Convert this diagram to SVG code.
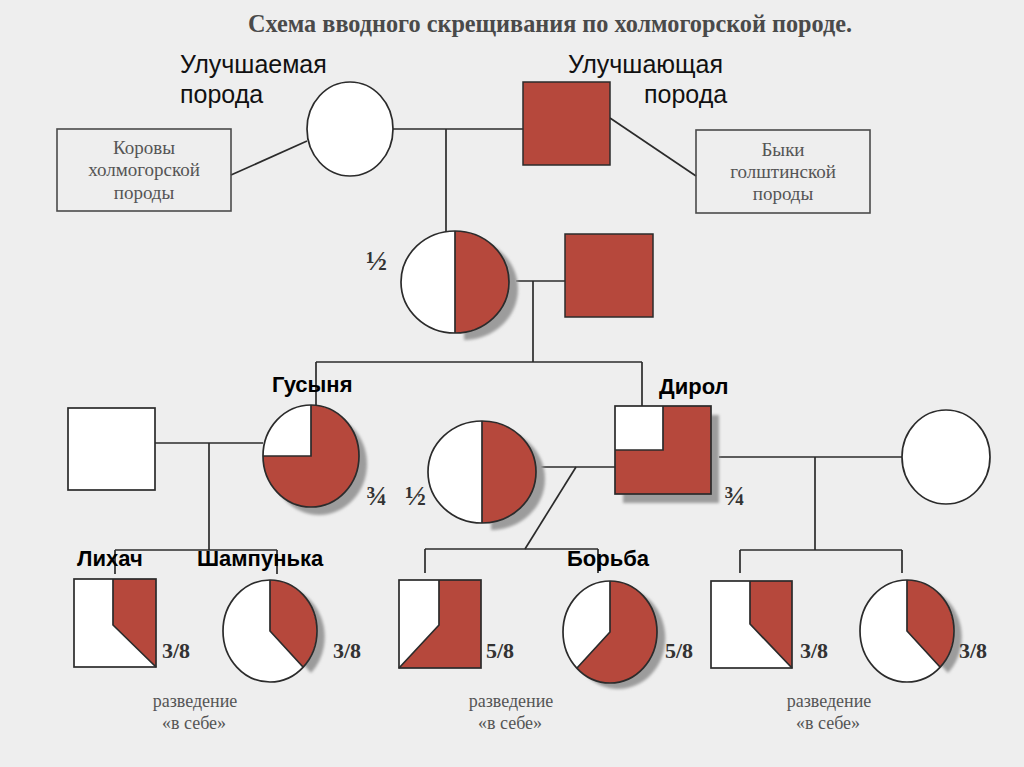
<svg xmlns="http://www.w3.org/2000/svg" width="1024" height="767" viewBox="0 0 1024 767">
<style>
.ln{stroke:#2b2b2b;stroke-width:1.7;fill:none}
.ol{stroke:#2b2b2b;stroke-width:1.7;fill:none}
.wh{fill:#ffffff}
.rd{fill:#b6483c}
.rds{fill:#b6483c;stroke:#2b2b2b;stroke-width:1.5}
.sh{fill:#9c9c9c;filter:url(#blur)}
.box{fill:none;stroke:#4a4a4a;stroke-width:1.6}
.bt{font-family:"Liberation Serif","Times New Roman",serif;font-size:19px;fill:#555;text-anchor:middle}
.lab{font-family:"Liberation Sans",Arial,sans-serif;font-size:25px;fill:#111}
.nm{font-family:"Liberation Sans",Arial,sans-serif;font-size:22px;font-weight:bold;fill:#000}
.fr{font-family:"Liberation Serif","Times New Roman",serif;font-size:22px;font-weight:bold;fill:#333}
.fv{font-family:"Liberation Serif","Times New Roman",serif;font-size:28px;font-weight:bold;fill:#333}
.rz{font-family:"Liberation Serif","Times New Roman",serif;font-size:18px;fill:#555;text-anchor:middle}
</style>
<defs>
<filter id="blur" x="-20%" y="-20%" width="140%" height="140%"><feGaussianBlur stdDeviation="1.5"/></filter>
</defs>
<rect width="1024" height="767" fill="#eeeeee"/>
<text x="248" y="32" textLength="604" lengthAdjust="spacingAndGlyphs" style="font-family:'Liberation Serif','Times New Roman',serif;font-size:25px;font-weight:bold;fill:#4a4a4a">Схема вводного скрещивания по холмогорской породе.</text>

<g id="connectors">
<line class="ln" x1="231" y1="175" x2="307" y2="141"/>
<line class="ln" x1="393" y1="129" x2="523" y2="129"/>
<line class="ln" x1="446" y1="129" x2="446" y2="233"/>
<line class="ln" x1="610" y1="118" x2="696" y2="176"/>
<line class="ln" x1="516" y1="281" x2="565" y2="281"/>
<line class="ln" x1="533" y1="281" x2="533" y2="362"/>
<line class="ln" x1="316" y1="362" x2="642" y2="362"/>
<line class="ln" x1="316" y1="362" x2="316" y2="407"/>
<line class="ln" x1="642" y1="362" x2="642" y2="411"/>
<line class="ln" x1="155" y1="443" x2="263" y2="443"/>
<line class="ln" x1="209" y1="443" x2="209" y2="550"/>
<line class="ln" x1="115" y1="550" x2="277" y2="550"/>
<line class="ln" x1="115" y1="550" x2="115" y2="574"/>
<line class="ln" x1="277" y1="550" x2="277" y2="574"/>
<line class="ln" x1="541" y1="467" x2="615" y2="467"/>
<line class="ln" x1="576" y1="467" x2="525" y2="549"/>
<line class="ln" x1="425" y1="549" x2="598" y2="549"/>
<line class="ln" x1="425" y1="549" x2="425" y2="573"/>
<line class="ln" x1="598" y1="549" x2="598" y2="573"/>
<line class="ln" x1="719" y1="457" x2="902" y2="457"/>
<line class="ln" x1="815" y1="457" x2="815" y2="550"/>
<line class="ln" x1="740" y1="550" x2="902" y2="550"/>
<line class="ln" x1="740" y1="550" x2="740" y2="573"/>
<line class="ln" x1="902" y1="550" x2="902" y2="573"/>
</g>

<g id="box-cows">
<rect class="box" x="57" y="129" width="174" height="82"/>
<text class="bt" x="144" y="154">Коровы</text>
<text class="bt" x="144" y="176">холмогорской</text>
<text class="bt" x="144" y="199">породы</text>
</g>
<g id="box-bulls">
<rect class="box" x="696" y="130" width="174" height="83"/>
<text class="bt" x="783" y="156">Быки</text>
<text class="bt" x="783" y="178">голштинской</text>
<text class="bt" x="783" y="200">породы</text>
</g>

<g id="improved-label">
<text class="lab" x="180" y="73">Улучшаемая</text>
<text class="lab" x="180" y="103">порода</text>
</g>
<g id="improving-label">
<text class="lab" x="568" y="73">Улучшающая</text>
<text class="lab" x="644" y="103">порода</text>
</g>

<g id="cow-p">
<ellipse class="ol wh" cx="350" cy="129" rx="43" ry="47"/>
</g>
<g id="bull-p">
<rect class="rds" x="523" y="82" width="87" height="83"/>
</g>

<g id="f1-cow">
<path class="sh" d="M464,238 A54,51 0 0 1 464,340 Z"/>
<ellipse class="wh" cx="455" cy="282" rx="54" ry="51"/>
<path class="rd" d="M455,231 A54,51 0 0 1 455,333 Z"/>
<ellipse class="ol" cx="455" cy="282" rx="54" ry="51"/>
<line class="ln" x1="455" y1="231" x2="455" y2="333"/>
<text class="fv" x="366" y="270">½</text>
</g>
<g id="bull-2">
<rect class="rds" x="565" y="234" width="88" height="83"/>
</g>

<g id="left-bull">
<rect class="ol wh" x="68" y="408" width="87" height="82"/>
</g>

<g id="gusynya">
<path class="sh" d="M319,464 L319,413 A48,51 0 1 1 271,464 Z"/>
<ellipse class="wh" cx="311" cy="456" rx="48" ry="51"/>
<path class="rd" d="M311,456 L311,405 A48,51 0 1 1 263,456 Z"/>
<ellipse class="ol" cx="311" cy="456" rx="48" ry="51"/>
<path class="ln" d="M311,405 L311,456 L263,456"/>
<text class="nm" x="272" y="392">Гусыня</text>
<text class="fv" x="366" y="505">¾</text>
</g>

<g id="f1-cow-2">
<path class="sh" d="M491,428 A54,51 0 0 1 491,530 Z"/>
<ellipse class="wh" cx="482" cy="472" rx="54" ry="51"/>
<path class="rd" d="M482,421 A54,51 0 0 1 482,523 Z"/>
<ellipse class="ol" cx="482" cy="472" rx="54" ry="51"/>
<line class="ln" x1="482" y1="421" x2="482" y2="523"/>
<text class="fv" x="405" y="505">½</text>
</g>

<g id="dirol">
<rect class="sh" x="623" y="415" width="96" height="88"/>
<rect class="wh" x="615" y="406" width="96" height="88"/>
<polygon class="rd" points="663,406 711,406 711,494 615,494 615,450 663,450"/>
<rect class="ol" x="615" y="406" width="96" height="88"/>
<path class="ln" d="M663,406 L663,450 L615,450"/>
<text class="nm" x="659" y="394">Дирол</text>
<text class="fv" x="724" y="505">¾</text>
</g>

<g id="right-cow">
<ellipse class="ol wh" cx="946" cy="457" rx="44" ry="47"/>
</g>

<g id="likhach">
<rect class="wh" x="74" y="579" width="82" height="88"/>
<polygon class="rd" points="113,579 156,579 156,667 113,625"/>
<path class="ln" d="M113,579 L113,625 L156,667"/>
<rect class="ol" x="74" y="579" width="82" height="88"/>
<text class="nm" x="77" y="566">Лихач</text>
<text class="fr" x="162" y="658">3/8</text>
</g>

<g id="shampunka">
<path class="sh" d="M278,637 L278,586 A47,51 0 0 1 311,673 Z"/>
<ellipse class="wh" cx="270" cy="631" rx="47" ry="51"/>
<path class="rd" d="M270,631 L270,580 A47,51 0 0 1 303,667 Z"/>
<ellipse class="ol" cx="270" cy="631" rx="47" ry="51"/>
<path class="ln" d="M270,580 L270,631 L303,667"/>
<text class="nm" x="197" y="566">Шампунька</text>
<text class="fr" x="333" y="658">3/8</text>
</g>

<g id="son-58">
<rect class="wh" x="399" y="580" width="82" height="88"/>
<polygon class="rd" points="439,580 481,580 481,668 399,668 439,625"/>
<path class="ln" d="M439,580 L439,625 L399,668"/>
<rect class="ol" x="399" y="580" width="82" height="88"/>
<text class="fr" x="486" y="658">5/8</text>
</g>

<g id="borba">
<path class="sh" d="M618,638 L618,587 A47,51 0 1 1 585,674 Z"/>
<ellipse class="wh" cx="610" cy="632" rx="47" ry="51"/>
<path class="rd" d="M610,632 L610,581 A47,51 0 1 1 577,668 Z"/>
<ellipse class="ol" cx="610" cy="632" rx="47" ry="51"/>
<path class="ln" d="M610,581 L610,632 L577,668"/>
<text class="nm" x="567" y="566">Борьба</text>
<text class="fr" x="665" y="658">5/8</text>
</g>

<g id="son-38">
<rect class="wh" x="711" y="581" width="81" height="87"/>
<polygon class="rd" points="750,581 792,581 792,668 750,624"/>
<path class="ln" d="M750,581 L750,624 L792,668"/>
<rect class="ol" x="711" y="581" width="81" height="87"/>
<text class="fr" x="800" y="658">3/8</text>
</g>

<g id="daughter-38">
<path class="sh" d="M915,637 L915,586 A47,51 0 0 1 948,673 Z"/>
<ellipse class="wh" cx="907" cy="631" rx="47" ry="51"/>
<path class="rd" d="M907,631 L907,580 A47,51 0 0 1 940,667 Z"/>
<ellipse class="ol" cx="907" cy="631" rx="47" ry="51"/>
<path class="ln" d="M907,580 L907,631 L940,667"/>
<text class="fr" x="959" y="658">3/8</text>
</g>

<g id="notes">
<text class="rz" x="195" y="707">разведение</text>
<text class="rz" x="194" y="729">«в себе»</text>
<text class="rz" x="511" y="707">разведение</text>
<text class="rz" x="510" y="729">«в себе»</text>
<text class="rz" x="829" y="707">разведение</text>
<text class="rz" x="828" y="729">«в себе»</text>
</g>
</svg>
